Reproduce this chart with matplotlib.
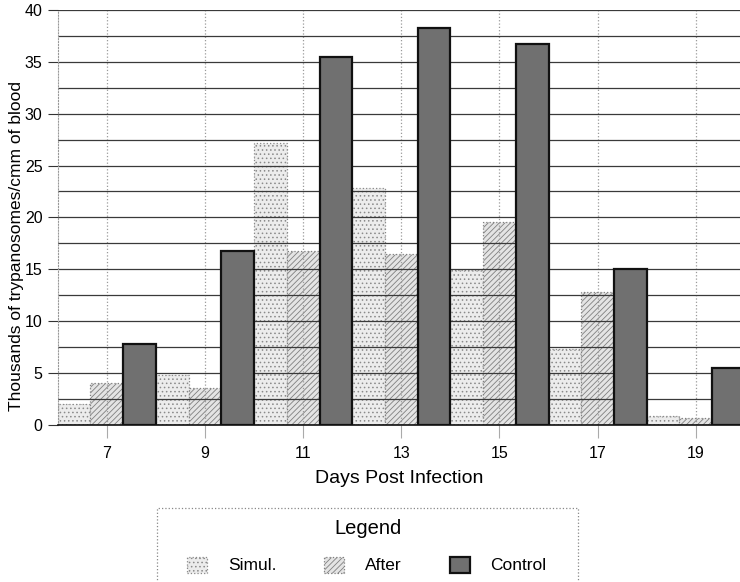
import numpy as np
import matplotlib.pyplot as plt
from matplotlib.ticker import MultipleLocator
from matplotlib.patches import Rectangle

plt.rcParams['font.family'] = ['Liberation Sans', 'DejaVu Sans']
plt.rcParams['hatch.linewidth'] = 0.6

days = [7, 9, 11, 13, 15, 17, 19]
simul = [2.0, 4.8, 27.2, 22.8, 14.9, 7.3, 0.85]
after = [4.0, 3.6, 16.8, 16.5, 19.6, 12.8, 0.7]
control = [7.8, 16.8, 35.5, 38.3, 36.7, 15.0, 5.5]

x = np.array(days, dtype=float)
w = 2 / 3

fig = plt.figure(figsize=(7.4, 5.82), dpi=100)
ax = fig.add_axes([0.078, 0.27, 0.922, 0.713])

ax.bar(x - w, simul, w, facecolor='#ececec', edgecolor='#8a8a8a', hatch='....',
       linestyle=':', linewidth=0.9, zorder=1, label='Simul.')
ax.bar(x, after, w, facecolor='#e4e4e4', edgecolor='#808080', hatch='//////',
       linestyle=':', linewidth=0.9, zorder=1, label='After')
ax.bar(x + w, control, w, facecolor='#707070', edgecolor='#111111',
       linewidth=1.6, zorder=3, label='Control')

ax.set_xlim(6, 19.9)
ax.set_ylim(0, 40)
ax.set_xticks(days)
ax.yaxis.set_major_locator(MultipleLocator(5))
ax.yaxis.set_minor_locator(MultipleLocator(2.5))

ax.set_axisbelow('line')
ax.grid(axis='y', which='both', color='#3a3a3a', linewidth=0.9)
ax.grid(axis='x', which='major', color='#9a9a9a', linestyle=':', linewidth=0.9)

for s in ['top', 'right']:
    ax.spines[s].set_visible(False)
ax.spines['left'].set_linestyle(':')
ax.spines['left'].set_color('#999999')
ax.spines['bottom'].set_color('#111111')
ax.spines['bottom'].set_linewidth(1.2)

ax.tick_params(axis='y', which='major', length=7, color='#333333', labelsize=11.5, pad=4)
ax.tick_params(axis='y', which='minor', length=0)
ax.tick_params(axis='x', length=9, color='#aaaaaa', labelsize=11.5, pad=6)

ax.set_xlabel('Days Post Infection', fontsize=14, labelpad=7)
ax.set_ylabel('Thousands of trypanosomes/cmm of blood', fontsize=12.5)
ax.yaxis.label.set_verticalalignment('center')
ax.yaxis.set_label_coords(-0.060, 0.43)

# legend: framed box with a title, entries in one row
fig.add_artist(Rectangle((157 / 740, -0.05), 421 / 740, 0.05 + 74 / 582,
                         transform=fig.transFigure, fill=False,
                         edgecolor='#888888', linestyle=':', linewidth=0.9))
fig.text(368 / 740, 1 - 528 / 582, 'Legend', ha='center', va='center', fontsize=14.5)
fig.legend(loc='center', bbox_to_anchor=(367 / 740, 1 - 565 / 582), ncol=3,
           frameon=False, fontsize=12.5, handlelength=1.15, handleheight=1.05,
           handletextpad=1.2, columnspacing=2.76, borderpad=0)

fig.savefig('out.png', dpi=100)
